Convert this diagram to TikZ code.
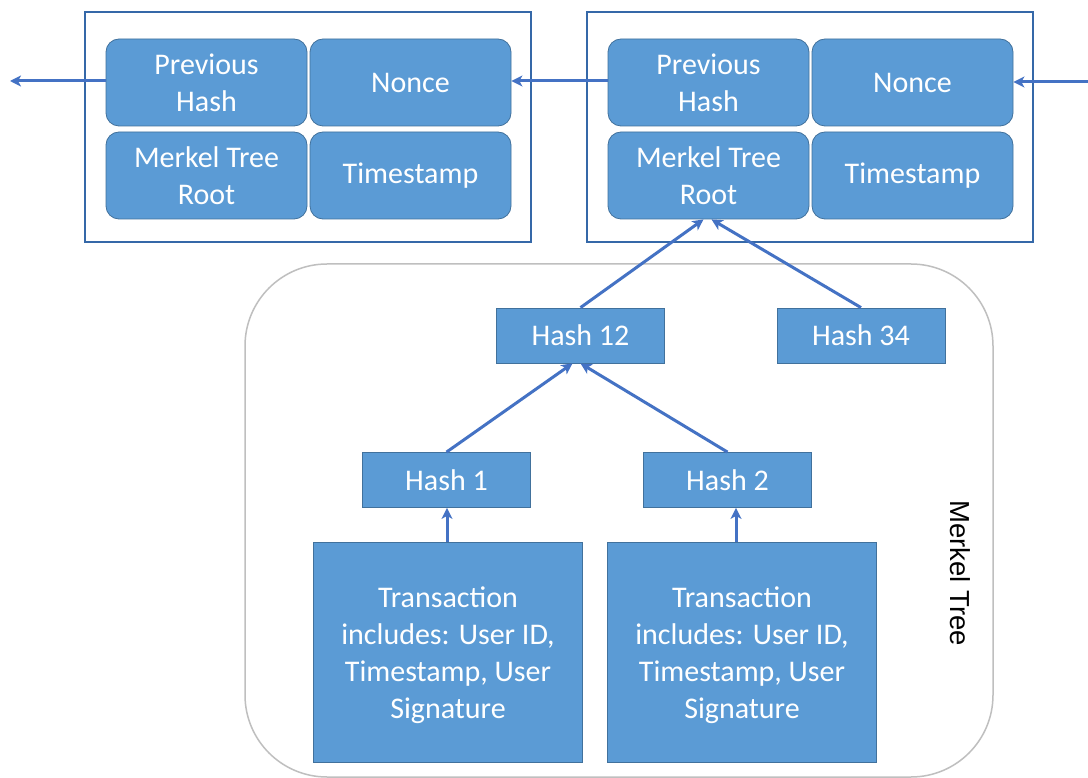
\documentclass[tikz,border=0pt]{standalone}
\usepackage{fontspec}
\setmainfont{Carlito}
\newfontfamily\labelfont{Liberation Sans}
\usetikzlibrary{arrows.meta,calc}
\definecolor{boxfill}{HTML}{5B9BD5}
\definecolor{boxline}{HTML}{41719C}
\definecolor{framelineblue}{HTML}{3568A8}
\definecolor{arrowblue}{HTML}{4472C4}
\definecolor{framegray}{HTML}{BFBFBF}
\tikzset{
  field/.style={draw=boxline, line width=0.8pt, fill=boxfill, rounded corners=13pt,
    minimum width=201pt, minimum height=87pt, inner sep=0pt, text=white,
    align=center, font=\fontsize{30}{37}\selectfont},
  hashbox/.style={draw=boxline, line width=0.8pt, fill=boxfill, minimum width=168pt,
    minimum height=55pt, inner sep=0pt, text=white, font=\fontsize{30}{37}\selectfont},
  txbox/.style={draw=boxline, line width=0.8pt, fill=boxfill, minimum width=269pt,
    minimum height=220pt, inner sep=0pt, text=white, align=center,
    font=\fontsize{30}{37}\selectfont},
  blockframe/.style={draw=framelineblue, line width=1.15pt, minimum width=446pt,
    minimum height=230pt, inner sep=0pt},
  link/.style={draw=arrowblue, line width=3pt,
    -{Stealth[length=11pt,width=11pt,inset=3pt]}},
}
\begin{document}
\begin{tikzpicture}[x=1pt,y=-1pt]
\useasboundingbox (0,0) rectangle (1088,778);
\fill[white] (0,0) rectangle (1088,778);

% Merkel tree container
\draw[framegray, line width=1.5pt, rounded corners=82pt] (245,264) rectangle (993,777);
\node[font=\labelfont\fontsize{27.5}{30}\selectfont, rotate=-90] (mtlabel) at (960,573) {Merkel Tree};

% block frames
\node[blockframe] (blockA) at (308,127) {};
\node[blockframe] (blockB) at (810,127) {};

% block A fields
\node[field] (prevA)  at (206.5,82.5)  {Previous\\Hash};
\node[field] (nonceA) at (410.5,82.5)  {Nonce};
\node[field] (rootA)  at (206.5,175.5) {Merkel Tree\\Root};
\node[field] (timeA)  at (410.5,175.5) {Timestamp};

% block B fields
\node[field] (prevB)  at (708.5,82.5)  {Previous\\Hash};
\node[field] (nonceB) at (912.5,82.5)  {Nonce};
\node[field] (rootB)  at (708.5,175.5) {Merkel Tree\\Root};
\node[field] (timeB)  at (912.5,175.5) {Timestamp};

% hashes
\node[hashbox] (h12) at (580.5,335.5) {Hash 12};
\node[hashbox] (h34) at (861,335.5)   {Hash 34};
\node[hashbox] (h1)  at (446.5,480)   {Hash 1};
\node[hashbox] (h2)  at (727.5,480)   {Hash 2};

% transactions
\node[txbox] (tx1) at (448,652) {};
\node[txbox] (tx2) at (742,652) {};
\node[align=center, text=white, font=\fontsize{30}{37}\selectfont] (tx1text) at (448,655)
  {Transaction\\includes: User ID,\\Timestamp, User\\Signature};
\node[align=center, text=white, font=\fontsize{30}{37}\selectfont] (tx2text) at (742,655)
  {Transaction\\includes: User ID,\\Timestamp, User\\Signature};

% chain links
\coordinate (leftend) at (10,81);
\coordinate (rightend) at (1088,82);
\draw[link] (prevA.west |- 0,81) -- (leftend);
\draw[link] (prevB.west |- 0,81) -- (nonceA.east |- 0,81);
\draw[link] (rightend) -- (nonceB.east |- 0,82);

% tree links
\draw[link] (h12.north) -- ($(rootB.south)+(-5,0)$);
\draw[link] (h34.north) -- ($(rootB.south)+(3,0)$);
\draw[link] (h1.north) -- ($(h12.south)+(-8,0)$);
\draw[link] (h2.north) -- ($(h12.south)+(0,0)$);
\draw[link] (tx1.north -| 447,0) -- (h1.south -| 447,0);
\draw[link] (tx2.north -| 736,0) -- (h2.south -| 736,0);
\end{tikzpicture}
\end{document}
